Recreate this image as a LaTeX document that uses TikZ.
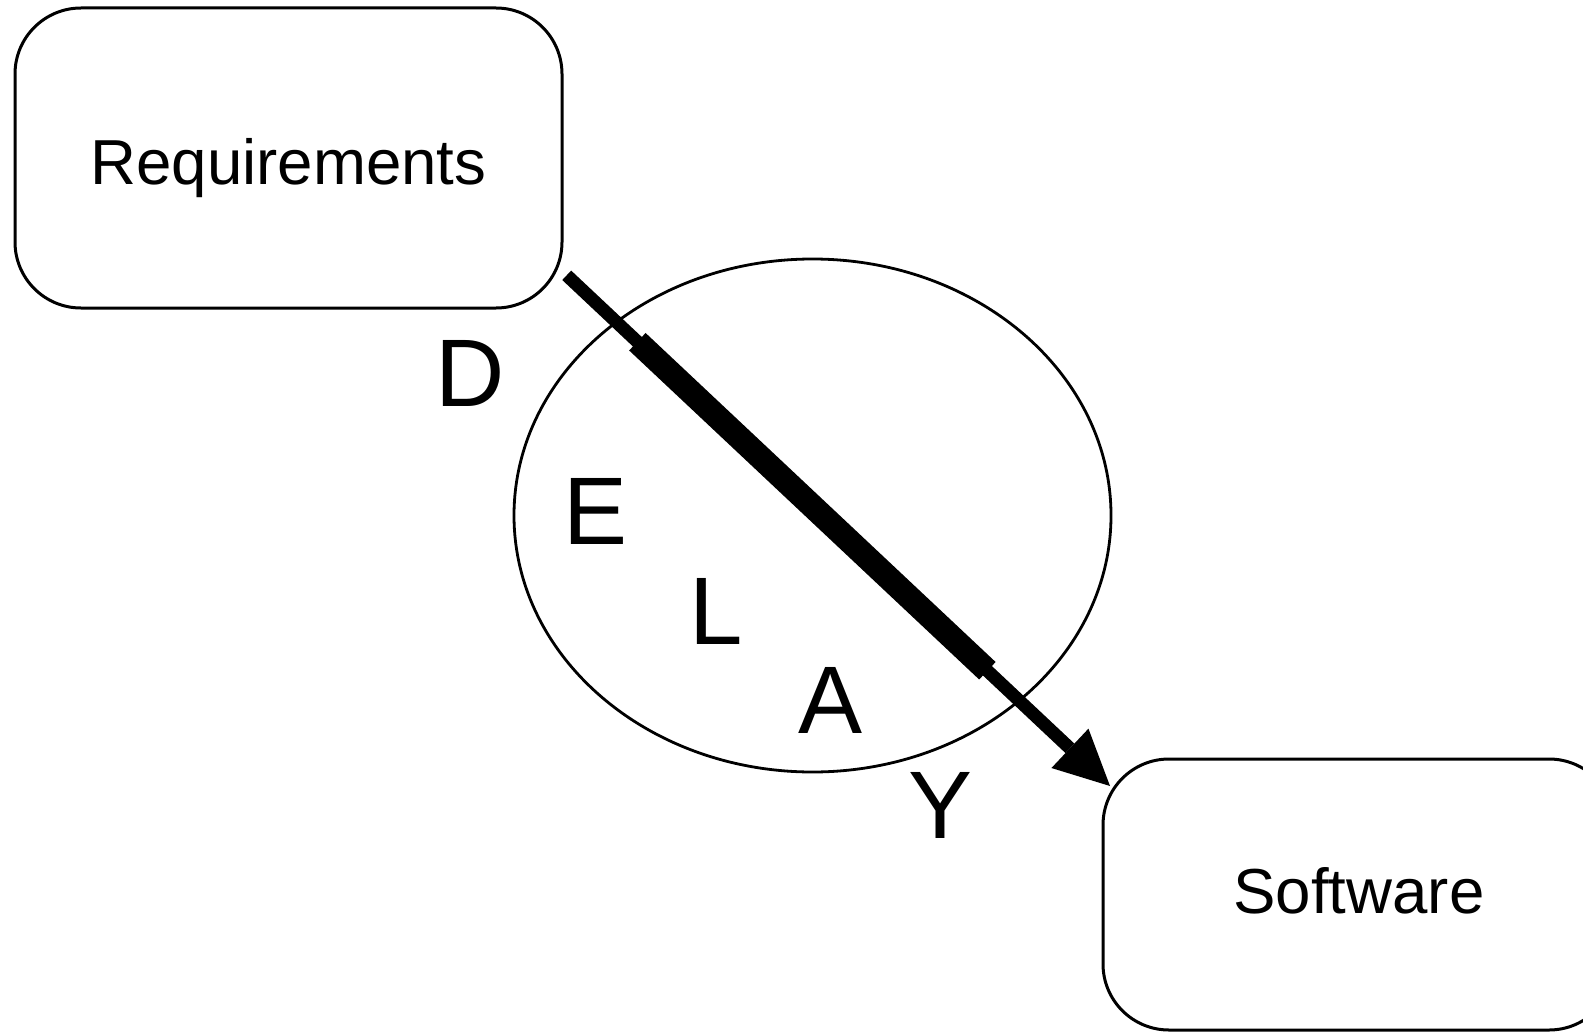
\documentclass[tikz,border=0pt]{standalone}
\usepackage{fontspec}
\setmainfont{Liberation Sans}
\usetikzlibrary{arrows.meta,calc,shapes.geometric}

\begin{document}
\begin{tikzpicture}[x=0.5pt,y=-0.5pt,
  procbox/.style={draw=black, line width=1.5pt, rounded corners=33pt,
    fill=white, inner sep=0pt, text depth=0pt,
    font=\fontsize{31.8pt}{31.8pt}\selectfont},
  delaybubble/.style={draw=black, ellipse, line width=1.4pt, inner sep=0pt},
  bigletter/.style={font=\fontsize{48pt}{48pt}\selectfont, anchor=base,
    inner sep=0pt},
  flowthin/.style={line width=6.5pt,
    -{Triangle[length=27.5pt,width=27pt,line width=0pt]}},
  flowthick/.style={line width=12pt}]

\clip (0,0) rectangle (1583,1032);

% the two stages
\node[procbox, minimum width=273.5pt, minimum height=150pt,
      text height=27pt] (req) at (288.5,158) {Requirements};
\node[procbox, minimum width=256pt, minimum height=135.5pt,
      text height=18.5pt] (sw) at (1359,894.5) {Software};

% the delay bubble
\node[delaybubble, minimum width=298.5pt, minimum height=256.5pt]
      (bubble) at (812.5,515.5) {};

% the flow from requirements to software
\coordinate (flowstart) at (566.7,275.3);
\coordinate (flowtip) at (1110,786);
\draw[flowthin] (flowstart) -- (flowtip);
\draw[flowthick] ($(flowstart)!0.1301!(flowtip)$) -- ($(flowstart)!0.7743!(flowtip)$);

% D-E-L-A-Y spelled along the flow
\node[bigletter] (ld) at (470,406) {D};
\node[bigletter] (le) at (596,544) {E};
\node[bigletter] (ll) at (716,644) {L};
\node[bigletter] (la) at (830.5,733) {A};
\node[bigletter] (ly) at (941,838) {Y};
\end{tikzpicture}
\end{document}
